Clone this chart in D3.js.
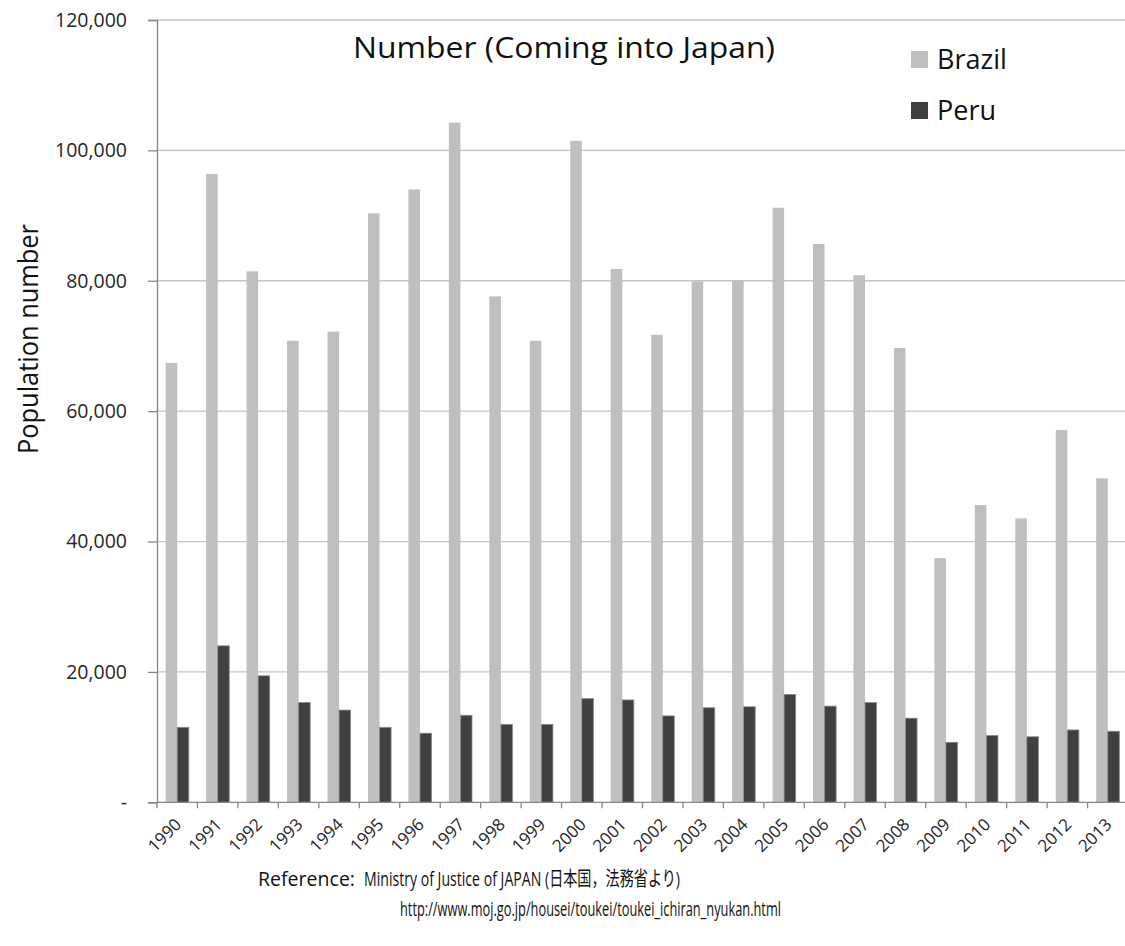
<!DOCTYPE html>
<html>
<head>
<meta charset="utf-8">
<script src="https://cdn.jsdelivr.net/npm/d3@7"></script>
<style>
  html, body { margin: 0; padding: 0; background: #fff; }
  svg { display: block; font-family: "Open Sans", "Noto Sans", "Noto Sans CJK JP", sans-serif; }
</style>
</head>
<body>
<svg id="chart" width="1125" height="946"></svg>
<script>
// Entrants to Japan by nationality, 1990-2013
const years = ["1990","1991","1992","1993","1994","1995","1996","1997","1998","1999","2000","2001",
               "2002","2003","2004","2005","2006","2007","2008","2009","2010","2011","2012","2013"];
const brazil = [67400, 96400, 81450, 70800, 72200, 90350, 94000, 104250, 77600, 70800, 101450, 81800,
                71700, 79900, 80050, 91200, 85650, 80850, 69700, 37450, 45600, 43550, 57100, 49700];
const peru = [11500, 24000, 19400, 15300, 14150, 11500, 10600, 13350, 11950, 11950, 15900, 15700,
              13250, 14500, 14650, 16550, 14750, 15300, 12900, 9200, 10250, 10050, 11100, 10900];
const seriesNames = ["Brazil", "Peru"];
const seriesColors = ["#bfbfbf", "#404040"];
const yTicks = [0, 20000, 40000, 60000, 80000, 100000, 120000];

const svg = d3.select("#chart");
const plotLeft = 157, plotRight = 1128, plotTop = 20, plotBottom = 802.3;

const x = d3.scaleBand().domain(years).range([plotLeft, plotRight]).padding(0);
const x1 = d3.scaleBand().domain(seriesNames).range([0, x.bandwidth()])
  .paddingInner(0).paddingOuter(0.75);
const y = d3.scaleLinear().domain([0, 120000]).range([plotBottom, plotTop]);
const color = d3.scaleOrdinal().domain(seriesNames).range(seriesColors);

// horizontal gridlines
svg.append("g")
  .selectAll("line")
  .data(yTicks.filter(d => d > 0))
  .join("line")
  .attr("x1", plotLeft).attr("x2", 1125)
  .attr("y1", d => y(d)).attr("y2", d => y(d))
  .attr("stroke", "#c4c4c4").attr("stroke-width", 1.3);

// bars
const rows = years.map((yr, i) => ({ year: yr, values: [
  { key: "Brazil", value: brazil[i] }, { key: "Peru", value: peru[i] } ] }));

const groups = svg.append("g").selectAll("g")
  .data(rows).join("g")
  .attr("transform", d => `translate(${x(d.year)},0)`);

groups.selectAll("rect")
  .data(d => d.values).join("rect")
  .attr("x", d => x1(d.key))
  .attr("width", x1.bandwidth())
  .attr("y", d => y(d.value))
  .attr("height", d => y(0) - y(d.value))
  .attr("fill", d => color(d.key))
  .attr("stroke", d => d.key === "Peru" ? "#8a8a8a" : "none")
  .attr("stroke-width", 0.8);

// y axis
const yAxis = d3.axisLeft(y)
  .tickValues(yTicks)
  .tickSize(9)
  .tickPadding(21)
  .tickFormat(d => d === 0 ? "-" : d3.format(",")(d));
const gy = svg.append("g").attr("transform", `translate(${plotLeft},0)`).call(yAxis);
gy.select(".domain").attr("stroke", "#868686").attr("stroke-width", 1.3);
gy.selectAll(".tick line").attr("stroke", "#868686").attr("stroke-width", 1.3);
gy.selectAll(".tick text")
  .attr("font-size", 19.5).attr("fill", "#262626")
  .attr("font-family", "'Open Sans', sans-serif");

// x axis: baseline, boundary ticks, rotated year labels
svg.append("line")
  .attr("x1", plotLeft).attr("x2", 1125)
  .attr("y1", y(0)).attr("y2", y(0))
  .attr("stroke", "#868686").attr("stroke-width", 1.3);

svg.append("g").selectAll("line")
  .data(years)
  .join("line")
  .attr("x1", d => x(d)).attr("x2", d => x(d))
  .attr("y1", y(0)).attr("y2", y(0) + 6)
  .attr("stroke", "#868686").attr("stroke-width", 1.3);

svg.append("g").selectAll("text")
  .data(years)
  .join("text")
  .attr("transform", d => `translate(${x(d) + x.bandwidth() / 2 + 1},${y(0) + 19}) rotate(-45)`)
  .attr("text-anchor", "end")
  .attr("dy", "0.35em")
  .attr("font-size", 17)
  .attr("fill", "#262626")
  .text(d => d);

// y axis title
svg.append("text")
  .attr("transform", "translate(38,339) rotate(-90)")
  .attr("text-anchor", "middle")
  .attr("font-size", 28)
  .attr("fill", "#111")
  .attr("textLength", 230)
  .attr("lengthAdjust", "spacingAndGlyphs")
  .text("Population number");

// chart title
svg.append("text")
  .attr("x", 353).attr("y", 58)
  .attr("font-size", 30)
  .attr("fill", "#111")
  .attr("textLength", 422)
  .attr("lengthAdjust", "spacingAndGlyphs")
  .text("Number (Coming into Japan)");

// legend
const legend = svg.append("g").selectAll("g")
  .data(seriesNames).join("g")
  .attr("transform", (d, i) => `translate(911,${51 + i * 51})`);
legend.append("rect")
  .attr("width", 17).attr("height", 17)
  .attr("fill", d => color(d));
legend.append("text")
  .attr("x", 26).attr("y", 18)
  .attr("font-size", 27)
  .attr("fill", "#111")
  .text(d => d);

// source note
const note = svg.append("g").attr("fill", "#111");
note.append("text").attr("x", 258).attr("y", 886).attr("font-size", 20)
  .attr("textLength", 97).attr("lengthAdjust", "spacingAndGlyphs")
  .text("Reference:");
note.append("text").attr("x", 364).attr("y", 886).attr("font-size", 20)
  .attr("textLength", 316).attr("lengthAdjust", "spacingAndGlyphs")
  .text("Ministry of Justice of JAPAN (日本国，法務省より)");
note.append("text").attr("x", 400).attr("y", 916).attr("font-size", 20)
  .attr("textLength", 381).attr("lengthAdjust", "spacingAndGlyphs")
  .text("http://www.moj.go.jp/housei/toukei/toukei_ichiran_nyukan.html");
</script>
</body>
</html>
